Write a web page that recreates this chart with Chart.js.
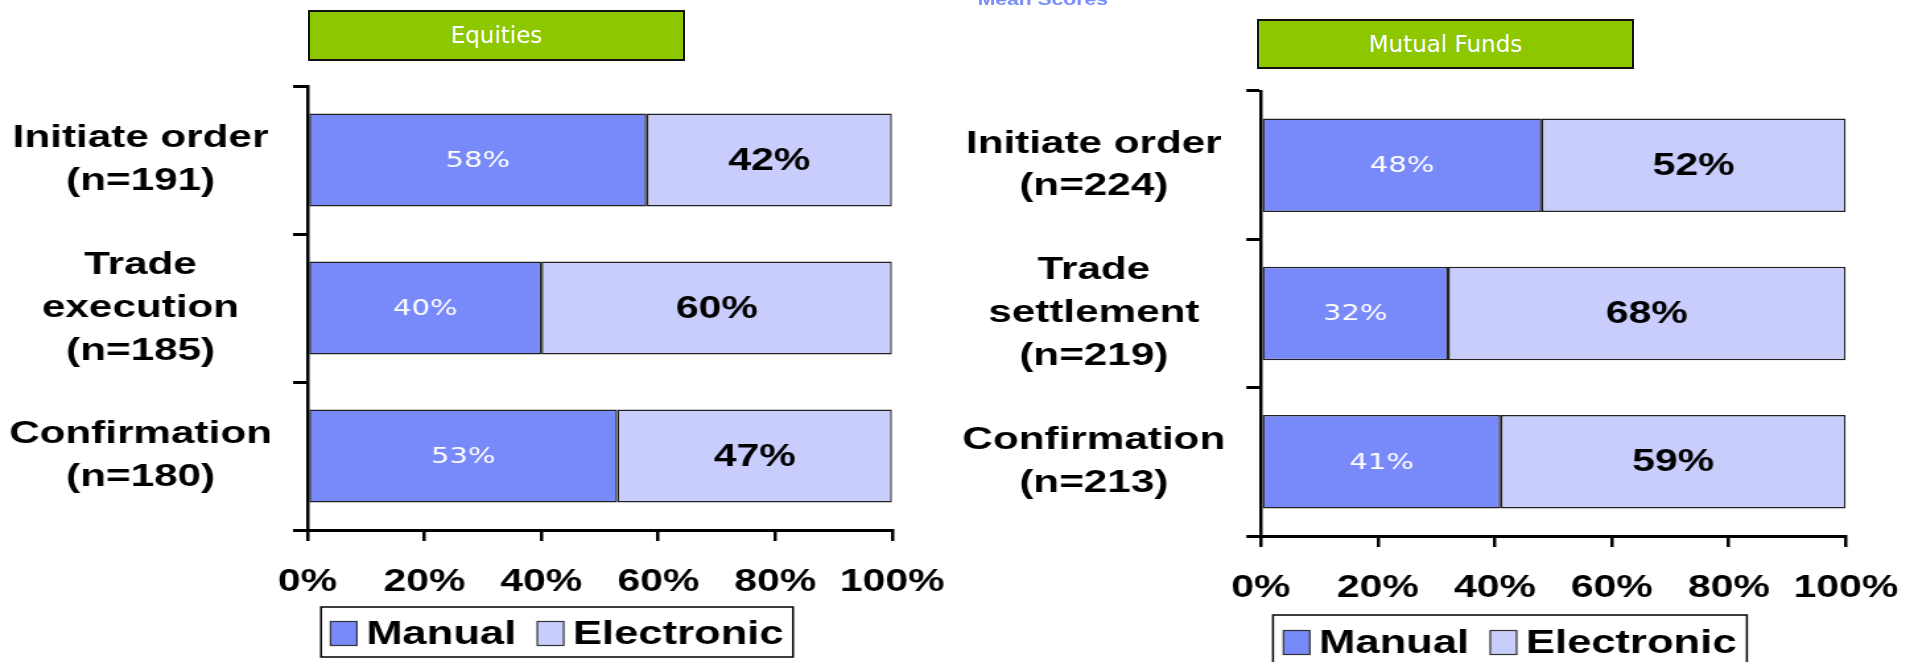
<!DOCTYPE html>
<html>
<head>
<meta charset="utf-8">
<script src="https://cdn.jsdelivr.net/npm/chart.js@4.4.1/dist/chart.umd.min.js"></script>
<style>
  html, body { margin: 0; padding: 0; background: #fff; }
  body { position: relative; width: 1923px; height: 662px; overflow: hidden; }
  /* the source picture is stretched sideways, so the chart layer is too */
  #wrap { position: absolute; left: 0; top: 0; width: 1480px; height: 662px; transform: scaleX(1.32); transform-origin: 0 0; }
  #wrap canvas { position: absolute; top: 0; }
  #meanScores { position: absolute; left: 690px; top: -8px; width: 200px; text-align: center;
    font: bold 16px "Liberation Sans", Arial, sans-serif; line-height: 16px; color: #7b8cfb; }
  .header { position: absolute; box-sizing: border-box; width: 377px; background: #8dc700; border: 2px solid #111;
    color: #fff; font: 23px "DejaVu Sans", sans-serif; text-align: center; }
</style>
</head>
<body>
<div id="wrap">
  <div id="meanScores">Mean Scores</div>
  <canvas id="equities" width="745" height="662" style="left:0"></canvas>
  <canvas id="funds" width="745" height="662" style="left:727px"></canvas>
</div>
<div class="header" style="left:308px; top:10px; height:51px; line-height:47px;">Equities</div>
<div class="header" style="left:1257px; top:19px; height:50px; line-height:46px;">Mutual Funds</div>

<script>
// Equities
const equityLabels = [['Initiate order', '(n=191)'], ['Trade', 'execution', '(n=185)'], ['Confirmation', '(n=180)']];
const equityManual = [58, 40, 53];
const equityElectronic = [42, 60, 47];

// Mutual funds
const fundLabels = [['Initiate order', '(n=224)'], ['Trade', 'settlement', '(n=219)'], ['Confirmation', '(n=213)']];
const fundManual = [48, 32, 41];
const fundElectronic = [52, 68, 59];

const seriesNames = ['Manual', 'Electronic'];
const xTickStep = 20;

const MANUAL_COLOR = '#7889fa';
const ELECTRONIC_COLOR = '#c8cdfb';
const FONT = '"Liberation Sans", Arial, sans-serif';

// value labels inside the bars
const barLabels = {
  id: 'barLabels',
  afterDatasetsDraw(chart) {
    const ctx = chart.ctx;
    chart.data.datasets.forEach((ds, i) => {
      const meta = chart.getDatasetMeta(i);
      meta.data.forEach((bar, j) => {
        ctx.save();
        if (i === 0) {
          ctx.font = '22px "DejaVu Sans", sans-serif';
          ctx.fillStyle = '#fff';
        } else {
          ctx.font = 'bold 31px ' + FONT;
          ctx.fillStyle = '#000';
        }
        ctx.textAlign = 'center';
        ctx.textBaseline = 'middle';
        ctx.fillText(ds.data[j] + '%', (bar.x + bar.base) / 2, bar.y + 1);
        ctx.restore();
      });
    });
  }
};

// legend with a frame round it
const boxLegend = {
  id: 'boxLegend',
  afterDraw(chart, args, opts) {
    const ctx = chart.ctx;
    ctx.save();
    ctx.lineWidth = 1.5;
    ctx.strokeStyle = '#000';
    ctx.strokeRect(opts.x, opts.y, opts.w, opts.h);
    ctx.font = 'bold 33px ' + FONT;
    const sw = 20, sh = 24, gap = 7, itemGap = 16;
    const items = chart.data.datasets.map(ds => ({
      label: ds.label, color: ds.backgroundColor, w: ctx.measureText(ds.label).width
    }));
    const total = items.reduce((s, it) => s + sw + gap + it.w, 0) + itemGap * (items.length - 1);
    let x = opts.x + (opts.w - total) / 2;
    const cy = opts.y + opts.cy;
    items.forEach(it => {
      ctx.fillStyle = it.color;
      ctx.fillRect(x, cy - sh / 2, sw, sh);
      ctx.strokeStyle = '#333';
      ctx.lineWidth = 1.2;
      ctx.strokeRect(x, cy - sh / 2, sw, sh);
      ctx.fillStyle = '#000';
      ctx.textAlign = 'left';
      ctx.textBaseline = 'middle';
      ctx.fillText(it.label, x + sw + gap, cy + 1);
      x += sw + gap + it.w + itemGap;
    });
    ctx.restore();
  }
};

function makeChart(id, labels, manual, electronic, cfg) {
  const dsStyle = { borderColor: '#222', borderWidth: 1.5, borderSkipped: false, barPercentage: 0.63, categoryPercentage: 1 };
  return new Chart(document.getElementById(id), {
    type: 'bar',
    data: {
      labels: labels,
      datasets: [
        Object.assign({ label: seriesNames[0], data: manual, backgroundColor: MANUAL_COLOR }, dsStyle),
        Object.assign({ label: seriesNames[1], data: electronic, backgroundColor: ELECTRONIC_COLOR }, dsStyle)
      ]
    },
    options: {
      indexAxis: 'y',
      responsive: false,
      animation: false,
      layout: { padding: { left: 0, top: cfg.top, right: cfg.right, bottom: 0 } },
      plugins: {
        legend: { display: false },
        tooltip: { enabled: false },
        boxLegend: cfg.legend
      },
      scales: {
        x: {
          stacked: true,
          min: 0,
          max: 100,
          ticks: {
            stepSize: xTickStep,
            callback: v => v + '%',
            color: '#000',
            font: { family: FONT, size: 31, weight: 'bold', lineHeight: 1.2 },
            padding: 23,
            maxRotation: 0,
            autoSkip: false
          },
          grid: { drawOnChartArea: false, drawTicks: true, tickLength: 11, color: '#000', lineWidth: 2.5 },
          border: { display: true, color: '#000', width: 3 },
          afterFit(scale) { scale.height = cfg.xh; }
        },
        y: {
          stacked: true,
          ticks: {
            color: '#000',
            font: { family: FONT, size: 32, weight: 'bold', lineHeight: 1.34 },
            crossAlign: 'center',
            padding: 16
          },
          grid: { drawOnChartArea: false, offset: true, tickLength: 11, color: '#000', lineWidth: 3 },
          border: { display: true, color: '#000', width: 2.5 },
          afterFit(scale) { scale.width = cfg.yw; }
        }
      }
    },
    plugins: [barLabels, boxLegend]
  });
}

makeChart('equities', equityLabels, equityManual, equityElectronic, {
  top: 86, right: 69.2, yw: 233, xh: 132,
  legend: { x: 243.2, y: 607, w: 357.6, h: 50, cy: 26.5 }
});

makeChart('funds', fundLabels, fundManual, fundElectronic, {
  top: 91, right: 73.7, yw: 228.2, xh: 126,
  legend: { x: 237.4, y: 615, w: 359, h: 52, cy: 27.5 }
});
</script>
</body>
</html>
